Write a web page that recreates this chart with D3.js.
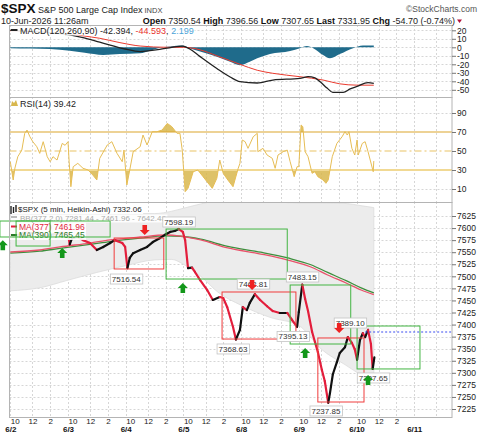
<!DOCTYPE html>
<html>
<head>
<meta charset="utf-8">
<script src="https://cdn.jsdelivr.net/npm/d3@7"></script>
<style>
  body { margin: 0; background: #fff; }
  svg { display: block; font-family: "Liberation Sans", Arial, sans-serif; }
</style>
</head>
<body>
<div id="chart"></div>
<script>
// ---- data (time = trading session index, 0 = 6/2 open, 1 = 6/3 open ...) ----
const dayNames = ['6/2', '6/3', '6/4', '6/5', '6/8', '6/9', '6/10', '6/11'];
const hourLabels = ['10', '12', '2'];
const hourTimes = ['10:00', '12:00', '14:00'];
const gridTimes = ['12:00', '14:00'];

const priceTicks = [7225, 7250, 7275, 7300, 7325, 7350, 7375, 7400, 7425, 7450, 7475, 7500, 7525, 7550, 7575, 7600, 7625];
const macdTicks = [20, 10, 0, -10, -20, -30, -40, -50];
const rsiTicks = [90, 70, 50, 30, 10];

const priceT = [0, 0.05, 0.12, 0.25, 0.35, 0.5, 0.64, 0.75, 0.9, 1.0, 1.03, 1.07, 1.16, 1.26, 1.38, 1.5, 1.61, 1.73, 1.81, 1.94,
  1.99, 2.03, 2.07, 2.13, 2.25, 2.37, 2.47, 2.59, 2.68, 2.77, 2.85, 2.92, 2.99, 3.03, 3.08, 3.15, 3.2, 3.29, 3.41, 3.51,
  3.63, 3.69, 3.76, 3.86, 3.91, 3.98, 4.03, 4.1, 4.15, 4.24, 4.33, 4.45, 4.55, 4.67, 4.8, 4.88, 4.97, 5.0, 5.06, 5.11,
  5.16, 5.23, 5.28, 5.33, 5.4, 5.45, 5.51, 5.54, 5.59, 5.66, 5.71, 5.8, 5.85, 5.92, 5.97, 6.01, 6.06, 6.11, 6.15, 6.2,
  6.25, 6.28, 6.31];
const priceV = [7586, 7582, 7585, 7592, 7589, 7591, 7584, 7587, 7591, 7588, 7566, 7579, 7581.5, 7575, 7569, 7554.5, 7560.8, 7569, 7575, 7569,
  7561, 7517, 7538, 7548, 7554.5, 7561, 7571, 7579, 7586, 7592, 7594, 7598, 7592, 7575, 7517, 7518, 7509, 7492, 7472, 7451,
  7457, 7455, 7436, 7395, 7369, 7389, 7436, 7430, 7445, 7463, 7451, 7438, 7428, 7424, 7424, 7410, 7395, 7426, 7483, 7453,
  7428, 7385, 7364, 7343, 7306, 7283, 7238, 7258, 7297, 7322, 7341, 7353, 7374, 7362, 7349, 7327, 7368, 7382, 7374, 7389,
  7360, 7308, 7332];

const maT = [0, 0.51, 0.86, 1.38, 1.73, 2.25, 2.69, 2.95, 3.3, 3.77, 4.34, 4.81, 5.21, 5.5, 5.82, 6.08, 6.3];
const ma377 = [7550.4, 7554.5, 7560.8, 7569, 7575.3, 7581.5, 7585.6, 7583.5, 7575.3, 7558.7, 7546.2, 7533.8, 7519.3, 7502.7, 7486.1, 7471.6, 7461.96];
const ma390 = [7548, 7552, 7558, 7566, 7572, 7579, 7584, 7583, 7577, 7562, 7550, 7538, 7524, 7508, 7491, 7476, 7465.45];

const bbT = [0, 0.5, 1.0, 1.5, 2.0, 2.5, 2.8, 3.0, 3.3, 3.6, 4.0, 4.5, 5.0, 5.4, 5.8, 6.1, 6.3];
const bbUpper = [7632, 7633, 7632, 7630, 7630, 7630, 7635, 7641, 7650, 7657, 7660, 7655, 7652, 7652, 7651, 7646, 7642.48];
const bbLower = [7470, 7476, 7492, 7508, 7522, 7534, 7535, 7525, 7500, 7467, 7440, 7415, 7398, 7348, 7317, 7294, 7281.44];

const histT = [0, 0.34, 0.69, 1.03, 1.29, 1.61, 1.9, 2.25, 2.42, 2.59, 2.77, 2.98, 3.11, 3.29, 3.58, 3.81, 3.98, 4.15, 4.28, 4.5,
  4.85, 5.02, 5.14, 5.25, 5.42, 5.54, 5.71, 5.94, 6.11, 6.3];
const histV = [-1, -1.5, -2, -4, -6.5, -9, -8, -7, -4, -0.5, 1, 2, -1, -5, -11, -17, -21, -17, -13, -8,
  -4.4, -1, 1.5, -1, -9, -13, -8, -1, 2, 2.2];
const macdT = [0, 0.4, 0.81, 1.03, 1.26, 1.55, 1.73, 1.99, 2.25, 2.42, 2.59, 2.8, 2.98, 3.11, 3.29, 3.58, 3.81, 3.98, 4.28, 4.55,
  5.02, 5.16, 5.28, 5.37, 5.49, 5.59, 5.77, 5.89, 6.01, 6.2, 6.3];
const macdV = [20, 18.5, 16.5, 14.5, 11.3, 6, 2.7, -2, -5, -4, -2.4, 0, 1.5, -2, -11, -25, -35, -40.5, -42, -38.5,
  -36.5, -34.5, -36, -40.5, -48, -53, -53, -49, -46, -41.6, -42.4];
const signalT = [0, 0.5, 0.98, 1.26, 1.55, 1.9, 2.25, 2.72, 3.0, 3.29, 3.58, 3.98, 4.28, 4.55, 5.02, 5.42, 5.71, 6.0, 6.3];
const signalV = [19.5, 18, 16.5, 13.5, 10.6, 5.5, 1.5, 0, 0, -3, -10, -20, -27, -30.6, -34.6, -38.5, -43, -44.5, -44.6];

const rsiT = [0, 0.05, 0.08, 0.13, 0.2, 0.25, 0.29, 0.34, 0.39, 0.46, 0.51, 0.57, 0.64, 0.69, 0.74, 0.81, 0.9, 0.95, 1.0, 1.02,
  1.05, 1.09, 1.17, 1.26, 1.35, 1.43, 1.5, 1.55, 1.68, 1.76, 1.85, 1.94, 1.97, 2.02, 2.07, 2.13, 2.25, 2.3, 2.37, 2.46,
  2.54, 2.63, 2.72, 2.8, 2.89, 2.94, 2.98, 3.03, 3.08, 3.17, 3.25, 3.34, 3.5, 3.58, 3.63, 3.69, 3.77, 3.86, 3.95, 3.98,
  4.02, 4.07, 4.12, 4.21, 4.28, 4.29, 4.38, 4.45, 4.54, 4.59, 4.64, 4.73, 4.8, 4.85, 4.92, 4.97, 5.0, 5.04, 5.07, 5.11,
  5.16, 5.23, 5.28, 5.33, 5.42, 5.47, 5.51, 5.58, 5.66, 5.75, 5.8, 5.84, 5.87, 5.92, 5.97, 6.01, 6.03, 6.1, 6.15, 6.2,
  6.29, 6.3];
const rsiV = [38.7, 19.5, 32, 44, 51, 68.6, 72, 65, 59.8, 54.5, 47.5, 59.8, 44, 38.7, 44, 40.5, 58, 56, 59.8, 38.7,
  12.4, 33.5, 37, 31.8, 30, 24.7, 19.5, 42.3, 56.3, 59.8, 47.5, 38.7, 51, 14.2, 30, 49.3, 54.5, 66.8, 56.3, 70.3,
  70.3, 72, 79, 75.6, 68.6, 68.6, 51, 7.2, 10.7, 28.2, 30, 23, 10.7, 21.3, 40.5, 26.5, 19.5, 12.4, 31.8, 37,
  61.6, 59.8, 52.8, 65, 68.6, 49.3, 52.8, 45.8, 42.3, 31.8, 45.8, 49.3, 51, 38.7, 23, 33.5, 33.5, 77.4, 75.6, 49.3,
  44, 26.5, 28.2, 23, 19.5, 16, 19.5, 44, 58, 65, 70.3, 66.8, 70.3, 52.8, 45.8, 61.6, 45.8, 58, 59.8, 49.3,
  28.2, 39.42];

// annotations drawn on the price panel
const boxKind = ['buy', 'buy', 'sell', 'buy', 'sell', 'buy', 'sell', 'buy'];
const boxStart = [-0.18, 0.1, 1.8, 2.7, 3.67, 4.85, 5.33, 6.01];
const boxEnd = [1.73, 0.69, 2.66, 4.8, 4.95, 5.9, 6.13, 7.1];
const boxHigh = [7614.6, 7614.6, 7579.4, 7598, 7467.5, 7482, 7372.2, 7397];
const boxLow = [7581.5, 7562.8, 7515.2, 7494.4, 7370, 7359.7, 7239.5, 7308];

const arrowKind = ['buy', 'buy', 'sell', 'buy', 'sell', 'buy', 'sell', 'buy'];
const arrowTime = [-0.13, 0.9, 2.33, 2.99, 4.19, 5.11, 5.7, 6.2];
const arrowPrice = [7575, 7558.7, 7585.6, 7486, 7471.6, 7351.4, 7382.5, 7295.5];

const calloutText = ['7598.19', '7516.54', '7368.63', '7462.81', '7483.15', '7395.13', '7237.85', '7389.10', '7307.65'];
const calloutTime = [2.92, 2.01, 3.86, 4.21, 5.06, 4.9, 5.47, 5.89, 6.29];
const calloutPrice = [7612.6, 7494.4, 7349.4, 7484, 7498.6, 7375.3, 7220.9, 7403.2, 7289.3];

const resistTime = 6.15;
const resistLevel = 7384.6;

// ---- layout ----
const W = 480, H = 433;
const L = 9.5, R = 452;
const macdBox = [25, 97], rsiBox = [97, 202], priceBox = [202, 417];
const RED = '#e31e3c', GOLD = '#e6bd55';
const FONT = '"Liberation Sans", Arial, sans-serif';

const svg = d3.select('#chart').append('svg').attr('width', W).attr('height', H);

function sess(day, hhmm) {
  const [h, m] = hhmm.split(':').map(Number);
  return day + (h * 60 + m - 570) / 390;
}
const zip = (t, v) => t.map((d, i) => ({ t: d, v: v[i] }));

const x = d3.scaleLinear().domain([0, 7]).range([10.3, 414.2]);
const yM = d3.scaleLinear().domain([-50, 20]).range([89.8, 30.3]);
const yR = d3.scaleLinear().domain([10, 90]).range([189, 113]);
const yP = d3.scaleLinear().domain([7225, 7625]).range([409, 216]);

const defs = svg.append('defs');
function clip(id, y0, y1, x0 = L, x1 = R) {
  defs.append('clipPath').attr('id', id).append('rect')
    .attr('x', x0).attr('y', y0).attr('width', x1 - x0).attr('height', y1 - y0);
  return `url(#${id})`;
}
const clipM = clip('cm', macdBox[0], macdBox[1]);
const clipR = clip('cr', rsiBox[0], rsiBox[1]);
const clipP = clip('cp', priceBox[0], priceBox[1]);
const clipHi = clip('chi', rsiBox[0], yR(70));
const clipLo = clip('clo', yR(30), rsiBox[1]);

// ---- grid ----
const grid = svg.append('g').attr('stroke', '#d6d6d6').attr('stroke-dasharray', '2,2').attr('stroke-width', 1);
const vGrid = [];
dayNames.forEach((d, i) => {
  vGrid.push(i);
  gridTimes.forEach(t => vGrid.push(sess(i, t)));
});
[macdBox, rsiBox, priceBox].forEach(b => {
  vGrid.filter(t => x(t) < R).forEach(t => {
    grid.append('line').attr('x1', Math.round(x(t)) + 0.5).attr('x2', Math.round(x(t)) + 0.5)
      .attr('y1', b[0]).attr('y2', b[1]);
  });
});
const hLine = (y) => grid.append('line').attr('x1', L).attr('x2', R)
  .attr('y1', Math.round(y) + 0.5).attr('y2', Math.round(y) + 0.5);
macdTicks.forEach(v => hLine(yM(v)));
[90, 10].forEach(v => hLine(yR(v)));
priceTicks.forEach(v => hLine(yP(v)));

// ---- MACD panel ----
const gM = svg.append('g').attr('clip-path', clipM);
gM.append('path')
  .datum(zip(histT, histV))
  .attr('fill', '#1f6b8b')
  .attr('d', d3.area().x(d => x(d.t)).y0(yM(0)).y1(d => yM(d.v)).curve(d3.curveMonotoneX));
gM.append('path')
  .datum(zip(signalT, signalV))
  .attr('fill', 'none').attr('stroke', '#ea3b2f').attr('stroke-width', 1)
  .attr('d', d3.line().x(d => x(d.t)).y(d => yM(d.v)).curve(d3.curveMonotoneX));
gM.append('path')
  .datum(zip(macdT, macdV))
  .attr('fill', 'none').attr('stroke', '#222').attr('stroke-width', 1.3)
  .attr('d', d3.line().x(d => x(d.t)).y(d => yM(d.v)).curve(d3.curveMonotoneX));

// ---- RSI panel ----
const gR = svg.append('g').attr('clip-path', clipR);
const rsiData = zip(rsiT, rsiV);
gR.append('path').datum(rsiData).attr('fill', '#d8b74e').attr('opacity', 0.85).attr('clip-path', clipHi)
  .attr('d', d3.area().x(d => x(d.t)).y0(yR(70)).y1(d => yR(d.v)));
gR.append('path').datum(rsiData).attr('fill', '#d8b74e').attr('opacity', 0.85).attr('clip-path', clipLo)
  .attr('d', d3.area().x(d => x(d.t)).y0(yR(30)).y1(d => yR(d.v)));
gR.append('line').attr('x1', L).attr('x2', R).attr('y1', yR(70)).attr('y2', yR(70))
  .attr('stroke', '#dba62c').attr('stroke-width', 1.2);
gR.append('line').attr('x1', L).attr('x2', R).attr('y1', yR(50)).attr('y2', yR(50))
  .attr('stroke', '#e9c467').attr('stroke-width', 1.2).attr('stroke-dasharray', '7,3,2,3');
gR.append('line').attr('x1', L).attr('x2', R).attr('y1', yR(30)).attr('y2', yR(30))
  .attr('stroke', '#f1d993').attr('stroke-width', 2.2);
gR.append('path').datum(rsiData).attr('fill', 'none').attr('stroke', GOLD).attr('stroke-width', 1)
  .attr('d', d3.line().x(d => x(d.t)).y(d => yR(d.v)));

// ---- price panel ----
const gP = svg.append('g').attr('clip-path', clipP);
const bbData = bbT.map((t, i) => ({ t, hi: bbUpper[i], lo: bbLower[i] }));
gP.append('path').datum(bbData)
  .attr('fill', '#ececec').attr('stroke', '#dcdcdc').attr('stroke-width', 0.8)
  .attr('d', d3.area().x(d => x(d.t)).y0(d => yP(d.lo)).y1(d => yP(d.hi)).curve(d3.curveMonotoneX));
const maLine = d3.line().x(d => x(d.t)).y(d => yP(d.v)).curve(d3.curveMonotoneX);
gP.append('path').datum(zip(maT, ma390)).attr('fill', 'none').attr('stroke', '#3d8f3d').attr('stroke-width', 1.3).attr('d', maLine);
gP.append('path').datum(zip(maT, ma377)).attr('fill', 'none').attr('stroke', '#e8526a').attr('stroke-width', 1.3).attr('d', maLine);

const priceData = zip(priceT, priceV);
gP.selectAll('line.seg')
  .data(priceData.slice(1))
  .enter().append('line')
  .attr('class', 'seg')
  .attr('x1', (d, i) => x(priceData[i].t))
  .attr('y1', (d, i) => yP(priceData[i].v))
  .attr('x2', d => x(d.t))
  .attr('y2', d => yP(d.v))
  .attr('stroke', (d, i) => d.v >= priceData[i].v ? '#111' : RED)
  .attr('stroke-width', 2.2)
  .attr('stroke-linecap', 'round');

// ---- legends ----
function richText(g, tx, ty, parts, size) {
  const t = g.append('text').attr('x', tx).attr('y', ty).style('font-size', size + 'px');
  parts.forEach(p => {
    const s = t.append('tspan').attr('fill', p[1] || '#222').attr('font-weight', p[2] || 'normal').text(p[0]);
    if (p[3]) s.style('font-size', p[3] + 'px');
  });
  return t;
}
function backdrop(g, t) {
  const b = t.node().getBBox();
  g.insert('rect', 'text').attr('x', b.x - 9).attr('y', b.y + 1).attr('width', b.width + 10).attr('height', b.height - 1)
    .attr('fill', '#fff').attr('opacity', 0.9);
}
const leg = svg.append('g');
const legIcons = svg.append('g');

backdrop(leg, richText(leg, 20, 33.5, [['MACD(120,260,90) '], ['-42.394, '], ['-44.593', '#e8302a'], [', '], ['2.199', '#4aa3d8']], 9));
legIcons.append('line').attr('x1', 11).attr('x2', 17.5).attr('y1', 30).attr('y2', 30).attr('stroke', '#222').attr('stroke-width', 2);

backdrop(leg, richText(leg, 20, 106.5, [['RSI(14) 39.42']], 9));
legIcons.append('path').attr('d', 'M11,106 L12,101 L14,103 L16,100 L18,106 Z').attr('fill', '#d8b74e');

backdrop(leg, richText(leg, 18, 212, [['$SPX (5 min, Heikin-Ashi) 7332.06']], 8));
legIcons.append('path').attr('d', 'M11,206v8M13.5,207v6M16,205v7').attr('stroke', '#222').attr('stroke-width', 1.4);
backdrop(leg, richText(leg, 20, 220.5, [['BB(377,2.0) 7281.44 - 7461.96 - 7642.48', '#aaa']], 8));
legIcons.append('line').attr('x1', 11).attr('x2', 17).attr('y1', 217).attr('y2', 217).attr('stroke', '#bbb').attr('stroke-width', 2);
backdrop(leg, richText(leg, 19, 229.5, [['MA(377) 7461.96', RED]], 8.5));
legIcons.append('line').attr('x1', 11).attr('x2', 17).attr('y1', 226.5).attr('y2', 226.5).attr('stroke', RED).attr('stroke-width', 2);
backdrop(leg, richText(leg, 19, 238, [['MA(390) 7465.45', '#2a7a2a']], 8.5));
legIcons.append('line').attr('x1', 11).attr('x2', 17).attr('y1', 235).attr('y2', 235).attr('stroke', '#2a7a2a').attr('stroke-width', 2);

// ---- annotations ----
const ann = svg.append('g');
boxKind.forEach((k, i) => {
  ann.append('rect')
    .attr('x', x(boxStart[i])).attr('y', yP(boxHigh[i]))
    .attr('width', x(boxEnd[i]) - x(boxStart[i])).attr('height', yP(boxLow[i]) - yP(boxHigh[i]))
    .attr('fill', 'none').attr('stroke', k === 'buy' ? '#42b542' : '#f03c3c').attr('stroke-width', 1);
});
ann.append('line')
  .attr('x1', x(resistTime)).attr('x2', R).attr('y1', yP(resistLevel)).attr('y2', yP(resistLevel))
  .attr('stroke', '#3a4cf0').attr('stroke-width', 1.2).attr('stroke-dasharray', '2,2');

calloutText.forEach((txt, i) => {
  const cx = x(calloutTime[i]), cy = yP(calloutPrice[i]);
  const t = ann.append('text').attr('x', cx).attr('y', cy + 3).attr('text-anchor', 'middle')
    .style('font-size', '8px').attr('fill', '#333').text(txt);
  const b = t.node().getBBox();
  ann.insert('rect', 'text').attr('x', b.x - 1.5).attr('y', cy - 5).attr('width', b.width + 3).attr('height', 10)
    .attr('fill', '#fff').attr('stroke', '#c4c4c4').attr('stroke-width', 0.8);
});

arrowKind.forEach((k, i) => {
  const ax = x(arrowTime[i]), ay = yP(arrowPrice[i]);
  const s = k === 'buy' ? 1 : -1;
  const d = `M${ax},${ay} L${ax + 5},${ay + 5 * s} L${ax + 2.3},${ay + 5 * s} L${ax + 2.3},${ay + 10 * s} ` +
    `L${ax - 2.3},${ay + 10 * s} L${ax - 2.3},${ay + 5 * s} L${ax - 5},${ay + 5 * s} Z`;
  ann.append('path').attr('d', d).attr('fill', k === 'buy' ? '#13971a' : '#ee2222');
});

// ---- frames ----
[macdBox, rsiBox, priceBox].forEach(b => {
  svg.append('rect').attr('x', L).attr('y', b[0] + 0.5).attr('width', R - L).attr('height', b[1] - b[0])
    .attr('fill', 'none').attr('stroke', '#b4b4b4').attr('stroke-width', 1);
});

// ---- axes ----
function rightAxis(scale, ticks) {
  const g = svg.append('g').attr('transform', `translate(${R},0)`)
    .call(d3.axisRight(scale).tickValues(ticks).tickSize(4).tickPadding(1).tickFormat(d => String(d)));
  g.select('.domain').remove();
  g.selectAll('line').attr('stroke', '#777');
  g.selectAll('text').style('font-size', '8.5px').attr('fill', '#222').style('font-family', FONT);
}
rightAxis(yM, macdTicks);
rightAxis(yR, rsiTicks);
rightAxis(yP, priceTicks);

const hourVals = [], hourText = [];
dayNames.slice(0, 7).forEach((d, i) => hourTimes.forEach((t, j) => { hourVals.push(sess(i, t)); hourText.push(hourLabels[j]); }));
const gx1 = svg.append('g').attr('transform', `translate(0,${priceBox[1]})`)
  .call(d3.axisBottom(x).tickValues(hourVals).tickSize(0).tickPadding(1.5).tickFormat((d, i) => hourText[i]));
const gx2 = svg.append('g').attr('transform', `translate(0,${priceBox[1]})`)
  .call(d3.axisBottom(x).tickValues(dayNames.map((d, i) => i)).tickSize(0).tickPadding(9).tickFormat((d, i) => dayNames[i]));
[gx1, gx2].forEach(g => {
  g.select('.domain').remove();
  g.selectAll('text').style('font-size', '8px').attr('fill', '#222').style('font-family', FONT);
});
gx2.selectAll('text').attr('font-weight', 'bold').attr('fill', '#111');

// ---- header ----
const head = svg.append('g');
richText(head, 1, 13, [['$SPX', '#111', 'bold', 13.5], [' S&P 500 Large Cap Index', '#222', 'normal', 9], ['  INDX', '#444', 'normal', 7.5]], 9);
richText(head, 477, 12, [['©StockCharts.com', '#555']], 8.5).attr('text-anchor', 'end');
richText(head, 1, 24, [['10-Jun-2026 11:26am']], 9);
richText(head, 455, 24, [
  ['Open ', '#111', 'bold'], ['7350.54 '], ['High ', '#111', 'bold'], ['7396.56 '],
  ['Low ', '#111', 'bold'], ['7307.65 '], ['Last ', '#111', 'bold'], ['7331.95 '],
  ['Chg ', '#111', 'bold'], ['-54.70 (-0.74%)']
], 9).attr('text-anchor', 'end');
head.append('path').attr('d', 'M457,19.5 L462,19.5 L459.5,23 Z').attr('fill', '#b0103a');
</script>
</body>
</html>
